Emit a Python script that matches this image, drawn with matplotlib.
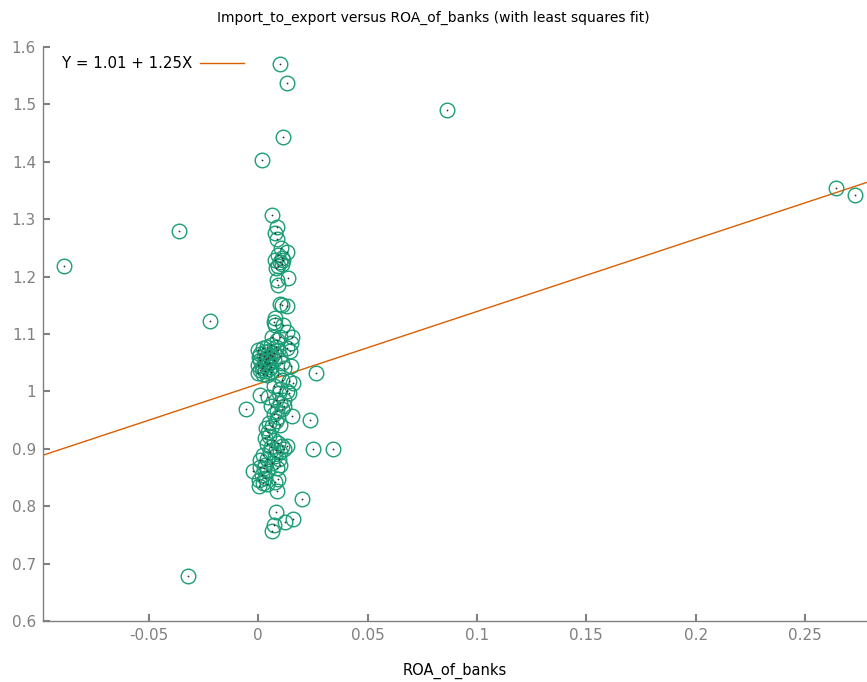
import matplotlib
matplotlib.use("Agg")
import matplotlib.pyplot as plt
import numpy as np

# ROA_of_banks (x) and Import_to_export (y)
roa = [
    -0.089, -0.036, -0.022, -0.032, -0.0055, 0.0865, 0.264, 0.273, 0.010, 0.0132,
    0.0114, 0.0018, 0.0063, 0.0265, 0.0252, 0.0342, 0.0237, 0.0198, 0.0158, 0.0122,
    0.0082, 0.0070, 0.0064, -0.0022,
    0.0085, 0.0078, 0.0085, 0.0105, 0.0130, 0.0092, 0.0108, 0.0078, 0.0100, 0.0115,
    0.0092, 0.0080, 0.0110, 0.0135, 0.0085, 0.0090, 0.0100, 0.0108, 0.0130, 0.0078,
    0.0070, 0.0115, 0.0078, 0.0130, 0.0062, 0.0100, 0.0155, 0.0085, 0.0150, 0.0145,
    0.000, 0.002, 0.004, 0.006, 0.008, 0.001, 0.003, 0.005, 0.007, 0.0005,
    0.0025, 0.0045, 0.0065, 0.001, 0.003, 0.005, 0.007, 0.000, 0.002, 0.004,
    0.006, 0.001, 0.003, 0.005, 0.000, 0.002, 0.004, 0.006, 0.0015, 0.0035,
    0.0055, 0.009, 0.010, 0.011, 0.012, 0.014, 0.015, 0.013, 0.009, 0.011,
    0.016, 0.010, 0.013,
    0.0010, 0.0045, 0.007, 0.008, 0.0095, 0.006, 0.0085, 0.007, 0.009, 0.011,
    0.010, 0.012, 0.0155, 0.005, 0.0035, 0.0045, 0.008, 0.010, 0.012, 0.014,
    0.0065,
    0.003, 0.005, 0.007, 0.009, 0.011, 0.004, 0.006, 0.008, 0.010, 0.012,
    0.013, 0.0055, 0.0075, 0.0095, 0.002, 0.004, 0.0065, 0.003, 0.001, 0.0025,
    0.004, 0.0085, 0.010, 0.001, 0.0015, 0.003, 0.0005, 0.002, 0.004, 0.0075,
    0.009, 0.0085, 0.0005,
]
imp_exp = [
    1.218, 1.279, 1.122, 0.678, 0.969, 1.490, 1.355, 1.342, 1.570, 1.537,
    1.444, 1.404, 1.308, 1.032, 0.899, 0.899, 0.950, 0.812, 0.777, 0.772,
    0.790, 0.767, 0.756, 0.862,
    1.287, 1.276, 1.266, 1.249, 1.242, 1.238, 1.232, 1.229, 1.226, 1.229,
    1.218, 1.215, 1.222, 1.198, 1.194, 1.186, 1.152, 1.150, 1.149, 1.128,
    1.121, 1.116, 1.116, 1.104, 1.095, 1.095, 1.095, 1.090, 1.085, 1.070,
    1.072, 1.075, 1.078, 1.080, 1.077, 1.066, 1.068, 1.070, 1.067, 1.060,
    1.062, 1.058, 1.061, 1.054, 1.052, 1.050, 1.055, 1.046, 1.044, 1.047,
    1.043, 1.038, 1.036, 1.039, 1.032, 1.030, 1.028, 1.033, 1.041, 1.057,
    1.064, 1.072, 1.062, 1.050, 1.040, 1.018, 1.045, 1.075, 1.028, 1.020,
    1.015, 1.005, 1.000,
    0.994, 0.990, 1.010, 0.985, 0.998, 0.975, 0.965, 0.960, 0.955, 0.970,
    0.980, 0.975, 0.958, 0.945, 0.936, 0.930, 0.948, 0.942, 0.985, 0.998,
    0.940,
    0.918, 0.922, 0.915, 0.910, 0.905, 0.908, 0.903, 0.898, 0.895, 0.900,
    0.905, 0.895, 0.888, 0.883, 0.890, 0.882, 0.876, 0.872, 0.868, 0.866,
    0.862, 0.866, 0.872, 0.880, 0.855, 0.850, 0.845, 0.840, 0.838, 0.842,
    0.848, 0.826, 0.836,
]

intercept = 1.013
slope = 1.262
fit_label = "Y = 1.01 + 1.25X"
x_ticks = [-0.05, 0, 0.05, 0.1, 0.15, 0.2, 0.25]
x_tick_labels = ["-0.05", "0", "0.05", "0.1", "0.15", "0.2", "0.25"]
y_ticks = [0.6, 0.7, 0.8, 0.9, 1.0, 1.1, 1.2, 1.3, 1.4, 1.5, 1.6]
y_tick_labels = ["0.6", "0.7", "0.8", "0.9", "1", "1.1", "1.2", "1.3", "1.4", "1.5", "1.6"]

green = "#1b9e77"
orange = "#d95f02"
gray = "#808080"

fig = plt.figure(figsize=(8.67, 6.82), dpi=100)
ax = fig.add_axes([43/867, 61/682, 1 - 43/867, (621-47)/682])

xmin, xmax = -0.0984, 0.2783
ax.set_xlim(xmin, xmax)
ax.set_ylim(0.6, 1.6)

ax.plot(roa, imp_exp, linestyle="none", marker="o", markersize=10.5,
        markerfacecolor="none", markeredgecolor=green, markeredgewidth=1.0, zorder=3)
ax.plot(roa, imp_exp, linestyle="none", marker="o", markersize=1.3,
        markerfacecolor="#333333", markeredgecolor="none", zorder=4)

xl = np.array([xmin, xmax])
line, = ax.plot(xl, intercept + slope * xl, color=orange, linewidth=1.0, zorder=2)

leg = ax.legend([line], [fit_label], loc="upper left", frameon=False,
                handlelength=2.9, handletextpad=0.5, markerfirst=False,
                bbox_to_anchor=(6/824, 1 + 4/574), borderaxespad=0.5, fontsize=10.8)

ax.set_xticks(x_ticks)
ax.set_xticklabels(x_tick_labels)
ax.set_yticks(y_ticks)
ax.set_yticklabels(y_tick_labels)

for s in ["top", "right"]:
    ax.spines[s].set_visible(False)
for s in ["left", "bottom"]:
    ax.spines[s].set_color(gray)
    ax.spines[s].set_linewidth(1.0)
ax.tick_params(direction="in", length=5, width=1.5, color=gray,
               labelcolor=gray, labelsize=11, pad=5)
ax.tick_params(axis="y", pad=5)

ax.set_xlabel("ROA_of_banks", fontsize=10.5, labelpad=14.5)
fig.text(0.5, 1 - 18/682, "Import_to_export versus ROA_of_banks (with least squares fit)",
         ha="center", va="center", fontsize=10)

fig.savefig("out.png", dpi=100)
